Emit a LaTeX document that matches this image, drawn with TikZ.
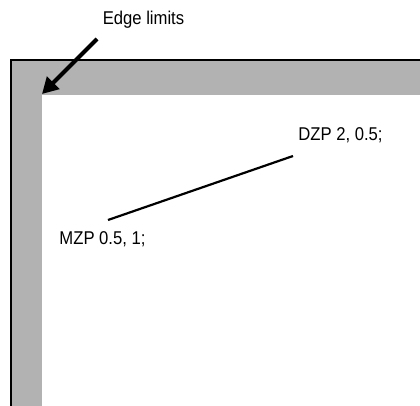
\documentclass[tikz,border=0pt]{standalone}
\usepackage{fontspec}
\setmainfont[FakeStretch=0.9]{Liberation Sans}
\usetikzlibrary{arrows.meta}
\begin{document}
\begin{tikzpicture}[x=1pt,y=-1pt,
  label/.style={anchor=base,inner sep=0pt,font=\fontsize{18.5}{22}\selectfont},
  band/.style={fill=black!30,draw=none},
  link/.style={line width=2.2pt},
  pointer/.style={line width=4pt,-{Triangle[length=16pt,width=17pt]}}]
\useasboundingbox (0,0) rectangle (420,406);
% shaded edge strips
\fill[band] (12,61) rectangle (42,406);
\fill[band] (12,61) rectangle (420,95);
% outer frame lines
\draw[line width=2pt] (11,406) -- (11,60) -- (420,60);
% labels
\node[label] (edge) at (143.5,24.5) {Edge limits};
\node[label] (dzp) at (340.5,141) {DZP 2, 0.5;};
\node[label] (mzp) at (102.5,244) {MZP 0.5, 1;};
% connector points
\coordinate (corner) at (42,94);
\coordinate (tail) at (97,39);
\coordinate (mzpend) at (108,220);
\coordinate (dzpend) at (293,156);
\draw[pointer] (tail) -- (corner);
\draw[link] (mzpend) -- (dzpend);
\end{tikzpicture}
\end{document}
